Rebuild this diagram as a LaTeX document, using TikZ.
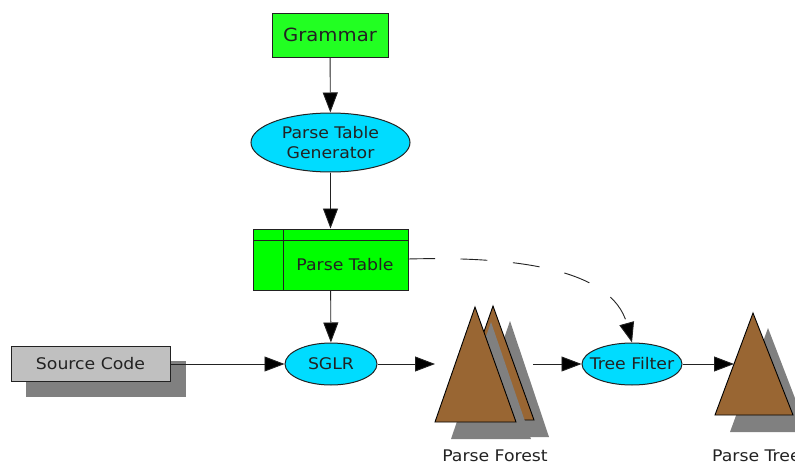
\documentclass[tikz,border=0pt]{standalone}
\usepackage{fontspec}
\setmainfont[FakeStretch=1.08]{DejaVu Sans}
\usetikzlibrary{arrows.meta,shapes.geometric}
\definecolor{grn}{HTML}{00FF00}
\definecolor{grnb}{HTML}{22FF22}
\definecolor{cyn}{HTML}{00DCFF}
\definecolor{brn}{HTML}{996633}
\definecolor{shd}{HTML}{808080}
\definecolor{srcg}{HTML}{C0C0C0}
\definecolor{ln}{HTML}{222222}
\tikzset{
  x=1pt,y=-1pt,
  lbl/.style={font=\fontsize{16pt}{19.5pt}\selectfont,text=ln,align=center,inner sep=0pt},
  oval/.style={ellipse,draw=ln,line width=1pt,fill=cyn,inner sep=0pt},
  conn/.style={draw=ln,line width=0.9pt,-{Triangle[length=20pt,width=15pt,fill=black]}},
  tree/.style={fill=brn,draw=black,line width=0.9pt,line join=miter},
}
\begin{document}
\begin{tikzpicture}
\useasboundingbox (0,0) rectangle (795,463);
\clip (0,0) rectangle (795,463);
% Grammar
\node[draw=ln,line width=1pt,fill=grnb,minimum width=116pt,minimum height=44pt,inner sep=0pt,font=\fontsize{18.2pt}{20pt}\selectfont,text=ln] (grammar) at (330,35) {Grammar};
% Generator
\node[oval,minimum width=159pt,minimum height=59pt] (gen) at (330.5,142.5) {};
\node[lbl] (genlabel) at (330.5,142.5) {Parse Table\\Generator};
% Parse table
\node[draw=ln,line width=1pt,fill=grn,minimum width=155pt,minimum height=61pt,inner sep=0pt] (table) at (330.5,259.5) {};
\draw[ln,line width=1pt] (253,240) -- (408,240) (283,229) -- (283,290);
\node[lbl] (tablelabel) at (345,264.5) {Parse Table};
% Source code
\fill[shd] (26,361) rectangle (186,397);
\node[draw=ln,line width=1pt,fill=srcg,minimum width=159pt,minimum height=35pt,inner sep=0pt,lbl] (source) at (90.5,363.5) {Source Code};
% SGLR
\node[oval,minimum width=92pt,minimum height=42pt] (sglr) at (331,364) {};
\node[lbl] (sglrlabel) at (331,363.5) {SGLR};
% Tree filter
\node[oval,minimum width=100pt,minimum height=42pt] (filter) at (632,364) {};
\node[lbl] (filterlabel) at (632,363.5) {Tree Filter};
% Forest
\fill[shd] (510,321) -- (549,437) -- (470,437) -- cycle;
\filldraw[tree] (493,306) -- (534,420) -- (453,420) -- cycle;
\fill[shd] (491,322) -- (531,439) -- (451,439) -- cycle;
\filldraw[tree] (475,307) -- (516,422) -- (435,422) -- cycle;
\node[lbl] (forestlabel) at (495,455.5) {Parse Forest};
% Tree
\fill[shd] (768,328) -- (808,432) -- (730,432) -- cycle;
\filldraw[tree] (753,313) -- (793,415) -- (715,415) -- cycle;
\node[lbl,anchor=west] (treelabel) at (712,455.5) {Parse Tree};
% connector ends
\coordinate (forestin) at (435,364);
\coordinate (forestout) at (533,364);
\coordinate (treein) at (734,364);
\coordinate (sourceout) at (170,364);
\coordinate (tableout) at (408,259);
% Connectors
\draw[conn] (grammar) -- (gen);
\draw[conn] (gen) -- (table);
\draw[conn] (table) -- (sglr);
\draw[conn] (sourceout) -- (sglr);
\draw[conn] (sglr) -- (forestin);
\draw[conn] (forestout) -- (filter);
\draw[conn] (filter) -- (treein);
\draw[conn,dash pattern=on 27pt off 25.5pt] (tableout) .. controls (520,256) and (612,270) .. (filter.north);
\end{tikzpicture}
\end{document}
